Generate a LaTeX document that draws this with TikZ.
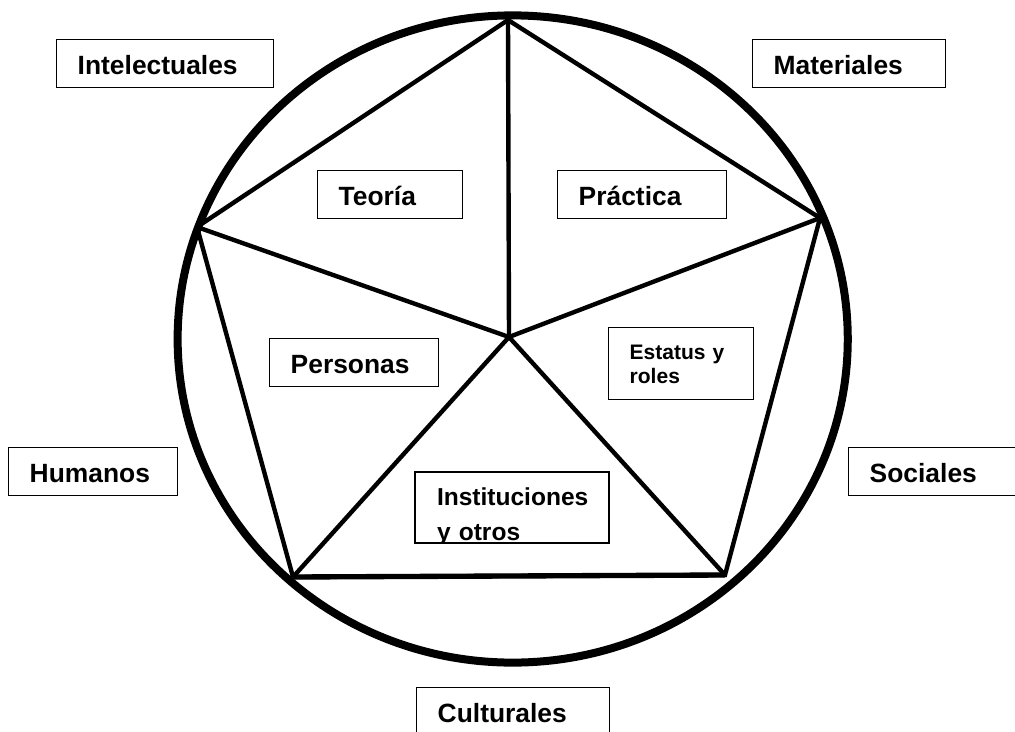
\documentclass[tikz,border=0pt]{standalone}
\usepackage{fontspec}
\setmainfont{Liberation Sans}[BoldFont={Liberation Sans Bold}]
\newfontfamily\lbold{Liberation Sans Bold}
\begin{document}
\begin{tikzpicture}[x=0.75pt,y=-0.75pt,
  edge/.style={line width=3.3pt, line join=miter},
  ring/.style={line width=6pt},
  lbl/.style={draw, line width=1.1pt, anchor=north west, inner ysep=0pt,
    inner xsep=15.75pt, minimum height=36pt, text height=16.5pt, text depth=0pt,
    align=left, text width=#1, font=\lbold\fontsize{19.8}{23}\selectfont},
  multilbl/.style={anchor=north west, inner ysep=0pt, outer sep=0pt, align=left}
]
\useasboundingbox (0,0) rectangle (1015,732);
\clip (0,0) rectangle (1015,732);

% outer circle
\draw[ring] (512.7,339) ellipse [x radius=251.3pt, y radius=242.7pt];

% pentagon
\coordinate (T) at (508,20);
\coordinate (UL) at (197,227);
\coordinate (UR) at (820,218);
\coordinate (LL) at (293,577);
\coordinate (LR) at (725,575);
\coordinate (C) at (509,337);
\draw[edge] (T) -- (UR) -- (LR) -- (LL) -- (UL) -- cycle;
\draw[edge, line width=4pt] (LL) -- (LR);
\foreach \v in {T,UL,UR,LL,LR} \draw[edge] (C) -- (\v);

% outer labels
\node[lbl=131.25pt] (intel) at (56,39) {Intelectuales};
\node[lbl=113.25pt] (mater) at (752,39) {Materiales};
\node[lbl=95.25pt] (human) at (8,447) {Humanos};
\node[lbl=103.5pt] (socia) at (848,447) {Sociales};
\node[lbl=113.25pt] (cultu) at (416,687) {Culturales};

% inner labels
\node[lbl=77.25pt] (teori) at (317,170) {Teoría};
\node[lbl=95.25pt] (pract) at (557,170) {Práctica};
\node[lbl=95.25pt] (perso) at (269,338) {Personas};

\node[lbl=77.25pt, minimum height=54pt, text height=15pt, text depth=22pt,
  font=\lbold\fontsize{15.75}{18}\selectfont] (estat) at (608,327) {Estatus y\\roles};

\begin{scope}
  \clip (0,0) rectangle (1015,541);
  \node[multilbl, inner xsep=16.5pt, text width=112.5pt, minimum height=53.25pt,
    text height=18pt, text depth=20.4pt,
    font=\lbold\fontsize{18.4}{25.9}\selectfont] (insti) at (415,472) {Instituciones\\y otros};
\end{scope}
\draw[line width=1.1pt] (insti.south west) rectangle (insti.north east);
\end{tikzpicture}
\end{document}
